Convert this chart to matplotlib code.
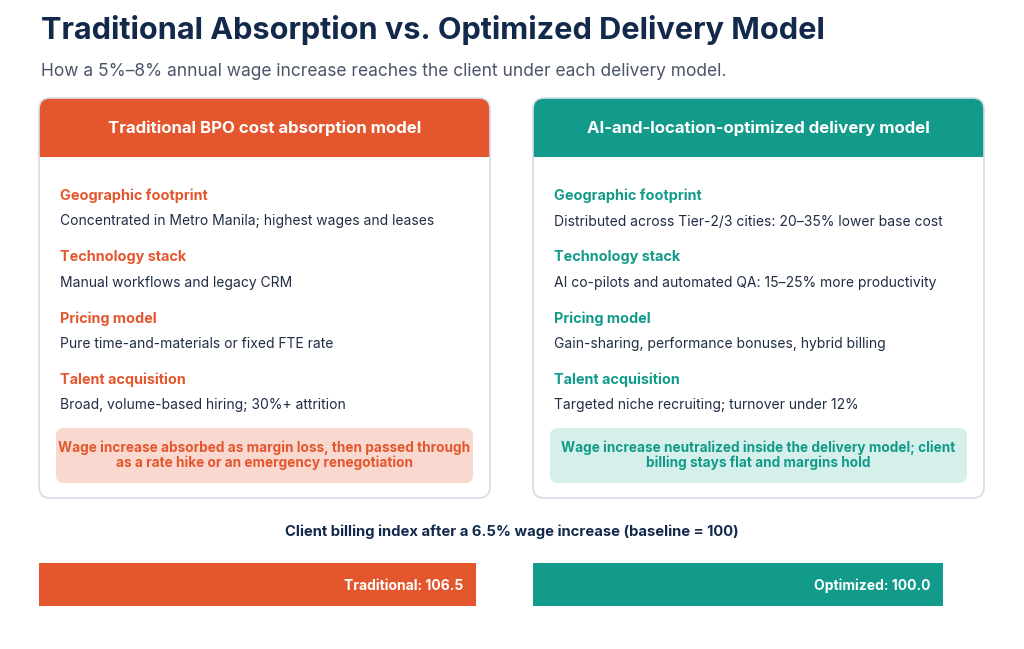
import matplotlib
matplotlib.use("Agg")
import matplotlib.pyplot as plt
from matplotlib.patches import FancyBboxPatch, Rectangle
import matplotlib.transforms as mtransforms

# ---------------- data ----------------
title = "Traditional Absorption vs. Optimized Delivery Model"
subtitle = "How a 5%\u20138% annual wage increase reaches the client under each delivery model."
card_titles = ["Traditional BPO cost absorption model", "AI-and-location-optimized delivery model"]
section_labels = ["Geographic footprint", "Technology stack", "Pricing model", "Talent acquisition"]
left_bodies = [
    "Concentrated in Metro Manila; highest wages and leases",
    "Manual workflows and legacy CRM",
    "Pure time-and-materials or fixed FTE rate",
    "Broad, volume-based hiring; 30%+ attrition",
]
right_bodies = [
    "Distributed across Tier-2/3 cities: 20\u201335% lower base cost",
    "AI co-pilots and automated QA: 15\u201325% more productivity",
    "Gain-sharing, performance bonuses, hybrid billing",
    "Targeted niche recruiting; turnover under 12%",
]
callouts = [
    "Wage increase absorbed as margin loss, then passed through\nas a rate hike or an emergency renegotiation",
    "Wage increase neutralized inside the delivery model; client\nbilling stays flat and margins hold",
]
billing_title = "Client billing index after a 6.5% wage increase (baseline = 100)"
categories = ["Traditional", "Optimized"]
billing_index = [106.5, 100.0]

# ---------------- style ----------------
ORANGE = "#e4572e"
TEAL = "#129b8b"
NAVY = "#13294b"
BODY = "#1f2d45"
GREY = "#4a5568"
BORDER = "#d6dde8"
TINTS = ["#f9d8cf", "#d5efea"]
ACCENTS = [ORANGE, TEAL]
FONT = "Inter"

W, H = 1024, 649
fig = plt.figure(figsize=(W / 100, H / 100), dpi=100)
fig.patch.set_facecolor("white")
ax = fig.add_axes([0, 0, 1, 1])
ax.set_xlim(0, W)
ax.set_ylim(H, 0)
ax.axis("off")

ax.text(41, 27, title, fontsize=22.1, fontweight="bold", color=NAVY,
        family=FONT, va="center_baseline", ha="left")
ax.text(41, 69.5, subtitle, fontsize=12.5, color=GREY, family=FONT,
        va="center_baseline", ha="left")

card_x = [39, 533]
card_w = 451
card_top, card_bot = 98, 498
head_h = 59
for i in range(2):
    x0 = card_x[i]
    card = FancyBboxPatch((x0, card_top), card_w, card_bot - card_top,
                          boxstyle="round,pad=0,rounding_size=11",
                          facecolor="white", edgecolor="none", zorder=1)
    ax.add_patch(card)
    head = Rectangle((x0, card_top), card_w, head_h, facecolor=ACCENTS[i],
                     edgecolor="none", zorder=2)
    ax.add_patch(head)
    head.set_clip_path(card)
    border = FancyBboxPatch((x0, card_top), card_w, card_bot - card_top,
                            boxstyle="round,pad=0,rounding_size=11",
                            facecolor="none", edgecolor=BORDER, lw=1.2, zorder=3)
    ax.add_patch(border)
    ax.text(x0 + card_w / 2, card_top + head_h / 2 - 1, card_titles[i], fontsize=12.1,
            fontweight="bold", color="white", family=FONT, ha="center",
            va="center_baseline", zorder=4)
    bodies = left_bodies if i == 0 else right_bodies
    for k, (lab, body) in enumerate(zip(section_labels, bodies)):
        yl = 194.5 + k * 61.3
        ax.text(x0 + 21, yl, lab, fontsize=10.4, fontweight="bold",
                color=ACCENTS[i], family=FONT, ha="left", va="center_baseline", zorder=4)
        ax.text(x0 + 21, yl + 25.5, body, fontsize=10, color=BODY,
                family=FONT, ha="left", va="center_baseline", zorder=4)
    cb = FancyBboxPatch((x0 + 17, 428), card_w - 34, 55,
                        boxstyle="round,pad=0,rounding_size=8",
                        facecolor=TINTS[i], edgecolor="none", zorder=3)
    ax.add_patch(cb)
    ax.text(x0 + card_w / 2, 455.5, callouts[i], fontsize=9.8, fontweight="bold",
            color=ACCENTS[i], family=FONT, ha="center", va="center",
            linespacing=1.08, zorder=4)

ax.text(W / 2, 530, billing_title, fontsize=10.65, fontweight="bold",
        color=NAVY, family=FONT, ha="center", va="center_baseline")

# ---------------- bars ----------------
px_per_unit = 437 / 106.5
bar_top, bar_bot = 563, 606
for i in range(2):
    bx = fig.add_axes([card_x[i] / W, (H - bar_bot) / H, card_w / W,
                       (bar_bot - bar_top) / H])
    bx.set_xlim(0, card_w / px_per_unit)
    bx.set_ylim(-0.5, 0.5)
    bx.axis("off")
    bx.barh([0], [billing_index[i]], height=1.0, left=0, color=ACCENTS[i])
    off = mtransforms.offset_copy(bx.transData, fig=fig, x=-13, y=0, units="dots")
    bx.text(billing_index[i], 0, f"{categories[i]}: {billing_index[i]:.1f}",
            transform=off, ha="right", va="center_baseline", fontsize=10,
            fontweight="bold", color="white", family=FONT)

fig.savefig("out.png", dpi=100, facecolor="white")
